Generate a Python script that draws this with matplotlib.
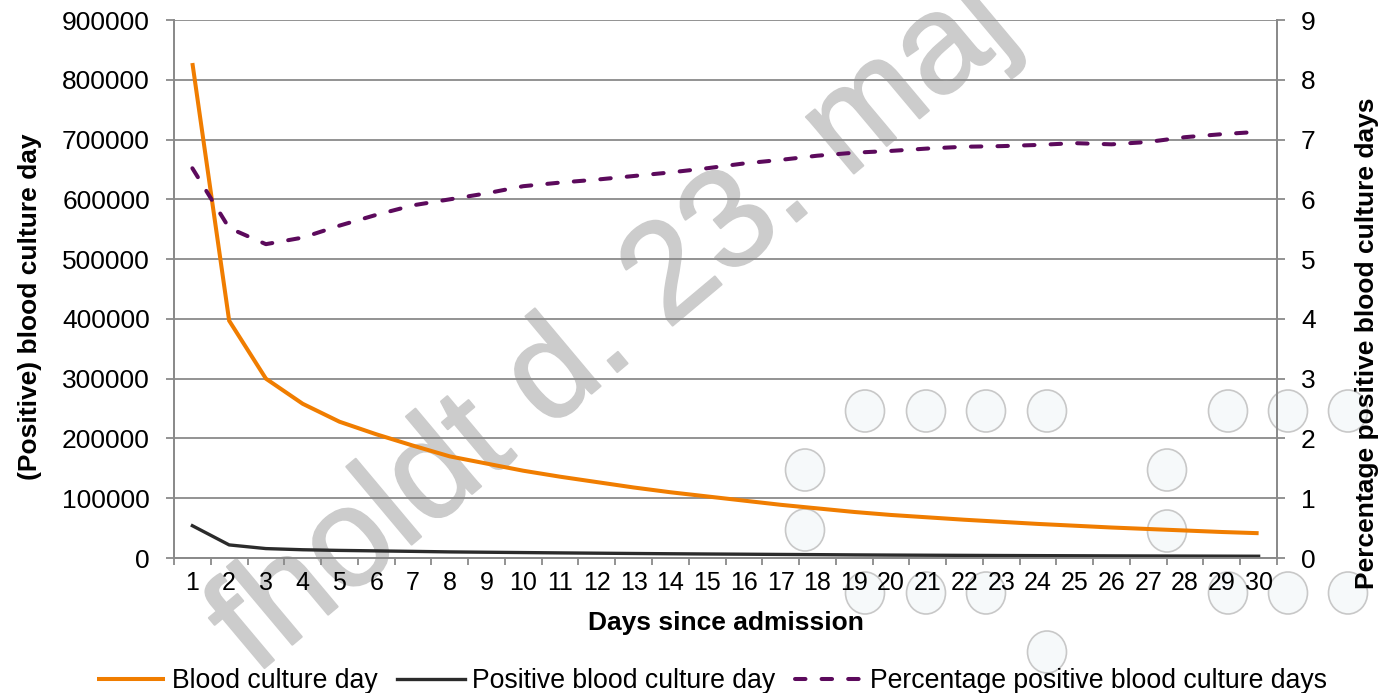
import numpy as np
import matplotlib
matplotlib.use("Agg")
import matplotlib.pyplot as plt
import matplotlib.patheffects as pe
from matplotlib.patches import Ellipse
from matplotlib.transforms import IdentityTransform

# ---- data -------------------------------------------------------------
days = list(range(1, 31))

blood_culture_days = [828000, 397000, 300000, 258000, 228000, 207000, 188000,
                      170000, 158000, 146000, 136000, 127000, 118000, 110000,
                      103000, 96000, 89000, 83000, 77000, 72000, 68000, 64000,
                      60500, 57000, 54000, 51000, 48500, 46000, 43500, 41500]

positive_culture_days = [54000, 21900, 15750, 13800, 12700, 11900, 11100,
                         10200, 9650, 9100, 8550, 8050, 7550, 7100, 6700,
                         6350, 5950, 5600, 5200, 4900, 4650, 4400, 4150,
                         3950, 3750, 3550, 3400, 3250, 3100, 2950]

pct_positive = [6.52, 5.52, 5.25, 5.36, 5.56, 5.74, 5.90, 6.00, 6.10, 6.22,
                6.28, 6.33, 6.39, 6.45, 6.52, 6.60, 6.66, 6.73, 6.78, 6.81,
                6.85, 6.88, 6.89, 6.91, 6.94, 6.92, 6.96, 7.04, 7.09, 7.13]

left_ticks = list(range(0, 900001, 100000))
right_ticks = list(range(0, 10))

series_names = ["Blood culture day", "Positive blood culture day",
                "Percentage positive blood culture days"]

# ---- style ------------------------------------------------------------
plt.rcParams['font.family'] = ['Liberation Sans', 'DejaVu Sans']
ORANGE = '#F07D00'
DARK = '#2B2B2B'
PURPLE = '#5C0A5C'
GRID = '#8A8A8A'
STAMP = '#CCCCCC'

W, H = 1383, 693
fig = plt.figure(figsize=(W / 100, H / 100), dpi=100)
fig.patch.set_facecolor('white')

# background stamp text behind the chart
fig.text(255 / W, 1 - 676 / H, "fholdt d. 23. maj", rotation=40,
         rotation_mode='anchor', ha='left', va='baseline', fontsize=101,
         color=STAMP, zorder=-3,
         path_effects=[pe.withStroke(linewidth=1.5, foreground=STAMP)])

# faint round markers scattered behind the chart
marker_px = [(805, 470), (805, 530), (865, 411), (926, 411), (986, 411),
             (1047, 411), (1228, 411), (1288, 411), (1348, 411),
             (1167, 470), (1167, 531), (865, 593), (926, 593), (986, 593),
             (1228, 593), (1288, 593), (1348, 593), (1047, 652)]
for mx, my in marker_px:
    fig.add_artist(Ellipse((mx, H - my), 39, 42,
                           transform=IdentityTransform(),
                           facecolor='#F6F9FA', edgecolor='#C8C8C8',
                           linewidth=1.2, zorder=-2))

ax = fig.add_axes([174 / W, 1 - 558 / H, (1277 - 174) / W, (558 - 20) / H])
ax.patch.set_visible(False)
ax2 = ax.twinx()
ax2.patch.set_visible(False)

l1, = ax.plot(days, blood_culture_days, color=ORANGE, lw=2.9,
              solid_joinstyle='miter', solid_capstyle='butt', zorder=3)
l2, = ax.plot(days, positive_culture_days, color=DARK, lw=2.4,
              solid_joinstyle='round', zorder=3)
l3, = ax2.plot(days, pct_positive, color=PURPLE, lw=2.9,
               linestyle=(0, (2.6, 4.0)), dash_capstyle='round', zorder=3)

ax.set_xlim(0.5, 30.5)
ax.set_ylim(0, 900000)
ax2.set_ylim(0, 9)

# horizontal gridlines
ax.set_yticks(left_ticks)
ax.set_yticklabels([str(v) for v in left_ticks])
ax.yaxis.grid(True, color=GRID, lw=1.3)
ax.set_axisbelow(True)
ax2.set_yticks(right_ticks)
ax2.set_yticklabels([str(v) for v in right_ticks])

# category boundaries carry tick marks, centres carry labels
ax.set_xticks(np.arange(0.5, 31, 1))
ax.set_xticklabels([])
ax.set_xticks(days, minor=True)
ax.set_xticklabels([str(d) for d in days], minor=True)
ax.tick_params(axis='x', which='major', direction='out', length=5,
               width=1.3, color=GRID)
ax.tick_params(axis='x', which='minor', length=0, pad=9.5, labelsize=18,
               labelcolor='black')
ax.tick_params(axis='y', direction='out', length=5.8, width=1.3, color=GRID,
               pad=11.5, labelsize=19, labelcolor='black')
ax2.tick_params(axis='y', direction='out', length=5.8, width=1.3, color=GRID,
                pad=11.5, labelsize=19, labelcolor='black')

for a in (ax, ax2):
    for side in ('left', 'right', 'bottom'):
        a.spines[side].set_color(GRID)
        a.spines[side].set_linewidth(1.3)
    a.spines['top'].set_visible(False)

ax.set_ylabel("(Positive) blood culture day", fontsize=19, fontweight='bold')
ax.yaxis.label.set_va('center')
ax.yaxis.set_label_coords((30 - 174) / 1103, 0.4665)
ax2.set_ylabel("Percentage positive blood culture days", fontsize=19,
               fontweight='bold')
ax2.yaxis.label.set_va('center')
ax2.yaxis.set_label_coords((1367 - 174) / 1103, 0.40)

ax.set_xlabel("Days since admission", fontsize=19, fontweight='bold')
ax.xaxis.label.set_va('baseline')
ax.xaxis.set_label_coords(0.5, (558 - 630) / 538)

fig.legend([l1, l2, l3], series_names, loc='center left',
           bbox_to_anchor=(97 / W, 1 - 681 / H), ncol=3, frameon=False,
           fontsize=19.2, handlelength=2.55, handletextpad=0.27,
           columnspacing=0.72, borderpad=0, borderaxespad=0)

fig.savefig("out.png", dpi=100, facecolor='white')
